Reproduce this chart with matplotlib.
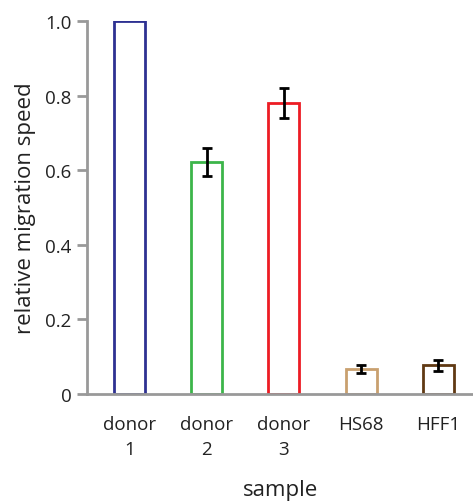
import numpy as np
import matplotlib.pyplot as plt

plt.rcParams['font.family'] = ['Open Sans', 'DejaVu Sans']

samples = ["donor\n1", "donor\n2", "donor\n3", "HS68", "HFF1"]
speed = [1.0, 0.622, 0.780, 0.067, 0.077]
speed_err = [0.0, 0.037, 0.040, 0.010, 0.014]
colors = ["#2e3192", "#3cb54a", "#ed1c24", "#c9a06f", "#603913"]

fig = plt.figure(figsize=(4.73, 5.02), dpi=100)
ax = fig.add_axes([87 / 473, 107 / 502, 1 - 87 / 473, 373 / 502])

x = np.arange(len(samples))
ax.bar(x, speed, width=0.4, facecolor="white", edgecolor=colors, linewidth=2, zorder=2)
for xi, v, e in zip(x, speed, speed_err):
    if e > 0:
        ax.errorbar(xi, v, yerr=e, fmt="none", ecolor="black", elinewidth=2,
                    capsize=3.5, capthick=2, zorder=3)

ax.set_xlim(-0.55, 4.45)
ax.set_ylim(0, 1.0)
ax.set_yticks([0, 0.2, 0.4, 0.6, 0.8, 1.0])
ax.set_yticklabels(["0", "0.2", "0.4", "0.6", "0.8", "1.0"])
ax.set_xticks(x)
ax.set_xticklabels(samples, fontsize=13.5, linespacing=1.5, color="#222222")
ax.tick_params(axis="x", length=0, pad=15)
ax.tick_params(axis="y", labelsize=13.5, labelcolor="#222222", length=7, width=2,
               color="#999999", pad=4)

for side in ["top", "right"]:
    ax.spines[side].set_visible(False)
for side in ["left", "bottom"]:
    ax.spines[side].set_color("#999999")
    ax.spines[side].set_linewidth(2)

ax.set_ylabel("relative migration speed", fontsize=16, labelpad=7, color="#222222")
ax.set_xlabel("sample", fontsize=16, labelpad=15, color="#222222")

fig.savefig("out.png", dpi=100)
